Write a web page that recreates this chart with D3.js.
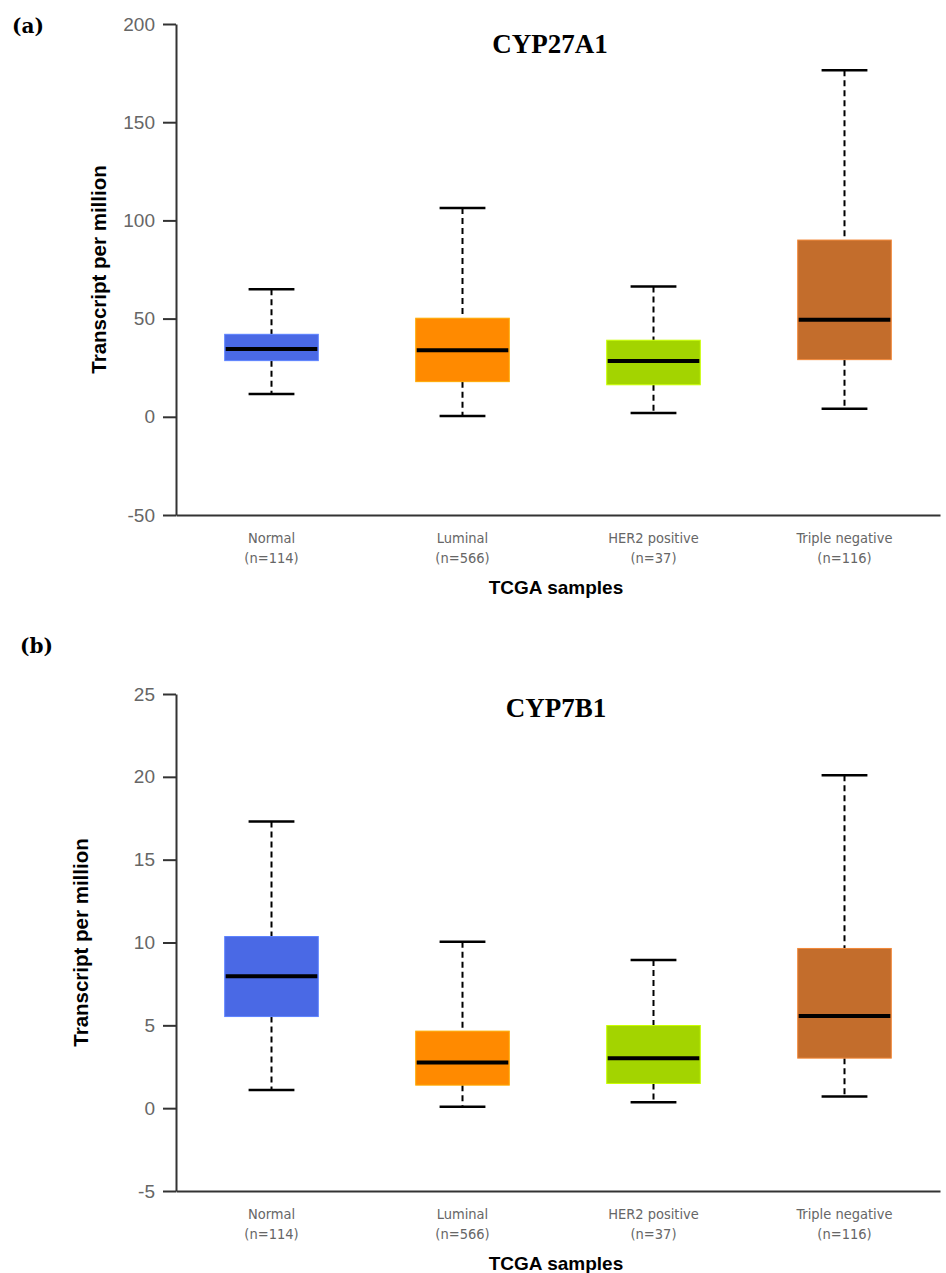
<!DOCTYPE html>
<html>
<head>
<meta charset="utf-8">
<script src="https://cdn.jsdelivr.net/npm/d3@7"></script>
<style>
  body { margin: 0; background: #fff; }
</style>
</head>
<body>
<div id="vis-container"></div>
<script>
let groups = ["Normal", "Luminal", "HER2 positive", "Triple negative"];
let sampleN = [114, 566, 37, 116];
let boxColors = ["#4a69e5", "#ff8a00", "#a3d400", "#c36d2c"];

// CYP27A1 (panel a)
let cyp27a1Lower = [11.6, 0.4, 1.9, 4.1];
let cyp27a1Q1 = [28.6, 17.9, 16.3, 29.1];
let cyp27a1Median = [34.5, 33.9, 28.4, 49.4];
let cyp27a1Q3 = [42.0, 50.2, 39.0, 90.0];
let cyp27a1Upper = [64.9, 106.3, 66.4, 176.4];
let cyp27a1Ticks = [-50, 0, 50, 100, 150, 200];

// CYP7B1 (panel b)
let cyp7b1Lower = [1.09, 0.08, 0.36, 0.70];
let cyp7b1Q1 = [5.53, 1.39, 1.49, 3.02];
let cyp7b1Median = [7.97, 2.75, 3.02, 5.56];
let cyp7b1Q3 = [10.36, 4.65, 4.99, 9.64];
let cyp7b1Upper = [17.3, 10.04, 8.94, 20.1];
let cyp7b1Ticks = [-5, 0, 5, 10, 15, 20, 25];

let w = 946;
let h = 1273;

let svg = d3.select("#vis-container")
  .append("svg")
  .attr("width", w)
  .attr("height", h);

function makeRows(lo, q1, med, q3, hi){
  return groups.map((g, i) => {
    return {name: g, n: sampleN[i], color: boxColors[i],
      lo: lo[i], q1: q1[i], med: med[i], q3: q3[i], hi: hi[i]};
  });
}

function drawPanel(p){
  let x = d3.scaleBand()
    .domain(groups)
    .range([176, 940]);

  let y = d3.scaleLinear()
    .domain(p.domain)
    .range([p.bottom, p.top]);

  let g = svg.append("g");

  // panel letter + title
  g.append("text")
    .attr("x", p.letterX)
    .attr("y", p.letterY)
    .attr("font-family", "DejaVu Serif")
    .attr("font-weight", "bold")
    .attr("font-size", 20)
    .text(p.letter);

  g.append("text")
    .attr("x", p.titleX)
    .attr("y", p.titleY)
    .attr("text-anchor", "middle")
    .attr("font-family", "Liberation Serif, serif")
    .attr("font-weight", "bold")
    .attr("font-size", 27)
    .text(p.title);

  // y axis
  let yAxis = g.append("g")
    .attr("transform", "translate(176,0)")
    .call(d3.axisLeft(y).tickValues(p.ticks).tickFormat(d => String(d))
      .tickSize(13).tickPadding(8).tickSizeOuter(0));
  yAxis.select(".domain").attr("stroke", "#333").attr("stroke-width", 2);
  yAxis.selectAll(".tick line").attr("stroke", "#333").attr("stroke-width", 2);
  yAxis.selectAll(".tick text")
    .attr("font-family", "Liberation Sans, Arial, sans-serif")
    .attr("font-size", 19)
    .attr("fill", "#666");

  // x axis line
  let xAxis = g.append("g")
    .attr("transform", "translate(0," + p.bottom + ")")
    .call(d3.axisBottom(x).tickSize(0).tickFormat(""));
  xAxis.select(".domain").attr("stroke", "#333").attr("stroke-width", 2);

  let labels = g.selectAll(".xlab")
    .data(p.rows)
    .enter()
    .append("text")
    .attr("class", "xlab")
    .attr("x", d => x(d.name) + x.bandwidth() / 2)
    .attr("text-anchor", "middle")
    .attr("font-family", "DejaVu Sans Condensed, DejaVu Sans, sans-serif")
    .attr("font-size", 14.5)
    .attr("fill", "#666");
  labels.append("tspan")
    .attr("x", d => x(d.name) + x.bandwidth() / 2)
    .attr("y", p.bottom + 28)
    .text(d => d.name);
  labels.append("tspan")
    .attr("x", d => x(d.name) + x.bandwidth() / 2)
    .attr("y", p.bottom + 48)
    .text(d => "(n=" + d.n + ")");

  g.append("text")
    .attr("x", 556)
    .attr("y", p.bottom + 79)
    .attr("text-anchor", "middle")
    .attr("font-family", "Liberation Sans, Arial, sans-serif")
    .attr("font-weight", "bold")
    .attr("font-size", 19)
    .text("TCGA samples");

  g.append("text")
    .attr("transform", "translate(" + p.ylabX + "," + ((p.top + p.bottom) / 2) + ") rotate(-90)")
    .attr("text-anchor", "middle")
    .attr("font-family", "Liberation Sans, Arial, sans-serif")
    .attr("font-weight", "bold")
    .attr("font-size", 20.5)
    .text("Transcript per million");

  let boxW = x.bandwidth() * 0.49;
  let capW = x.bandwidth() * 0.24;

  let boxes = g.selectAll(".box")
    .data(p.rows)
    .enter()
    .append("g")
    .attr("class", "box")
    .attr("transform", d => "translate(" + (x(d.name) + x.bandwidth() / 2) + ",0)");

  // whiskers
  boxes.append("line")
    .attr("x1", 0).attr("x2", 0)
    .attr("y1", d => y(d.hi)).attr("y2", d => y(d.q3))
    .attr("stroke", "#000").attr("stroke-width", 2)
    .attr("stroke-dasharray", "6,4");
  boxes.append("line")
    .attr("x1", 0).attr("x2", 0)
    .attr("y1", d => y(d.q1)).attr("y2", d => y(d.lo))
    .attr("stroke", "#000").attr("stroke-width", 2)
    .attr("stroke-dasharray", "6,4");

  // caps
  boxes.append("line")
    .attr("x1", -capW / 2).attr("x2", capW / 2)
    .attr("y1", d => y(d.hi)).attr("y2", d => y(d.hi))
    .attr("stroke", "#000").attr("stroke-width", 2.5);
  boxes.append("line")
    .attr("x1", -capW / 2).attr("x2", capW / 2)
    .attr("y1", d => y(d.lo)).attr("y2", d => y(d.lo))
    .attr("stroke", "#000").attr("stroke-width", 2.5);

  // boxes
  boxes.append("rect")
    .attr("x", -boxW / 2)
    .attr("width", boxW)
    .attr("y", d => y(d.q3))
    .attr("height", d => y(d.q1) - y(d.q3))
    .attr("fill", d => d.color)
    .attr("stroke", d => d3.color(d.color).brighter(0.6))
    .attr("stroke-width", 1);

  boxes.append("line")
    .attr("x1", -boxW / 2 + 1).attr("x2", boxW / 2 - 1)
    .attr("y1", d => y(d.med)).attr("y2", d => y(d.med))
    .attr("stroke", "#000").attr("stroke-width", 4);
}

drawPanel({
  rows: makeRows(cyp27a1Lower, cyp27a1Q1, cyp27a1Median, cyp27a1Q3, cyp27a1Upper),
  domain: [-50, 200], ticks: cyp27a1Ticks,
  top: 24, bottom: 515,
  letter: "(a)", letterX: 12, letterY: 33,
  title: "CYP27A1", titleX: 550, titleY: 53,
  ylabX: 106
});

drawPanel({
  rows: makeRows(cyp7b1Lower, cyp7b1Q1, cyp7b1Median, cyp7b1Q3, cyp7b1Upper),
  domain: [-5, 25], ticks: cyp7b1Ticks,
  top: 694, bottom: 1191,
  letter: "(b)", letterX: 20, letterY: 653,
  title: "CYP7B1", titleX: 556, titleY: 717,
  ylabX: 88
});
</script>
</body>
</html>
